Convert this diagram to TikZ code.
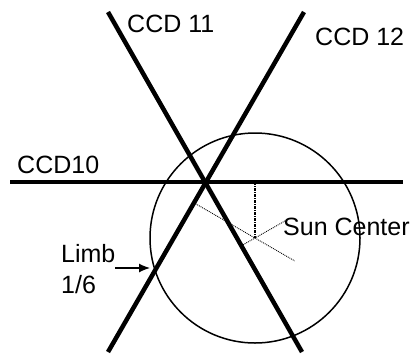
\documentclass[tikz,border=0pt]{standalone}
\usepackage{fontspec}
\setmainfont{Liberation Sans}
\usetikzlibrary{positioning,calc,arrows.meta}
\tikzset{
	ccd/.style={line width=4.5pt}, % the thick CCD lines
	limb/.style={line width=1.5pt},
	aux/.style={line width=0.9pt, densely dotted},
	lbl/.style={inner sep=0pt, font=\fontsize{25}{30}\selectfont}
}
\begin{document}
\begin{tikzpicture}[x=1pt,y=-1pt]
            \useasboundingbox (0,0) rectangle (417,360);
            \coordinate (cross) at (206,182);
            \coordinate (sun) at (255,238);
            \coordinate (a10) at (10,182);
            \coordinate (b10) at (403,182);
            \coordinate (a11) at (108,12);
            \coordinate (b11) at (302,352);
            \coordinate (a12) at (304,12);
            \coordinate (b12) at (108,352);
            \coordinate (foot11) at ($(a11)!(sun)!(b11)$);
            \coordinate (foot12) at ($(a12)!(sun)!(b12)$);
            \coordinate (end12) at ($(foot12)!1.65!(sun)$);
            \coordinate (end11) at ($(foot11)!3.33!(sun)$);
            \coordinate (top) at (sun |- cross);
            \coordinate (tail) at (115,268);
            \coordinate (tip) at (150,268);
            \node[lbl, anchor=base west] (l11) at (127,32) {CCD 11};
            \node[lbl, anchor=base west] (l12) at (315,45) {CCD 12};
            \node[lbl, anchor=base west] (l10) at (17,173) {CCD10};
            \node[lbl, anchor=base west] (lsun) at (283,235) {Sun Center};
            \node[lbl, anchor=base west] (limb) at (61,262) {Limb};
            \node[lbl, below=31pt of limb.base west, anchor=base west] (frac) {1/6};
            \draw[limb] (sun) circle[radius=105pt];
            \draw[ccd] (a10) -- (b10);
            \draw[ccd] (a11) -- (b11);
            \draw[ccd] (a12) -- (b12);
            \draw[line width=1.2pt, dash pattern=on 3pt off 1pt on 1pt off 1pt] (top) -- (sun);
            \draw[aux] (foot12) -- (end12);
            \draw[aux] (foot11) -- (end11);
            \draw[-{Latex[length=11pt,width=9pt]}, line width=1.2pt] (tail) -- (tip);
        \end{tikzpicture}
\end{document}
